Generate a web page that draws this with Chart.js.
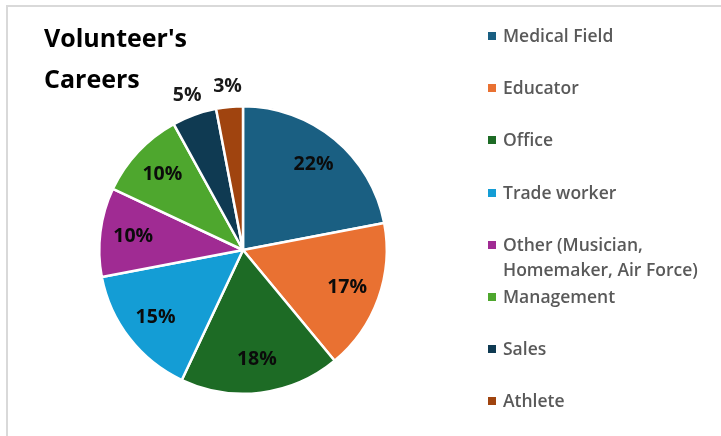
<!DOCTYPE html>
<html>
<head>
<meta charset="utf-8">
<script src="https://cdn.jsdelivr.net/npm/chart.js@4/dist/chart.umd.min.js"></script>
<style>
  html, body { margin: 0; padding: 0; background: #fff; }
  #wrap { position: relative; width: 721px; height: 436px; overflow: hidden; }
  #frame { position: absolute; left: 6px; top: 5px; right: -5px; bottom: -5px;
           border-left: 2px solid #d9d9d9; border-top: 2px solid #d9d9d9; }
  #pie { position: absolute; left: 0; top: 0; }
  #title { position: absolute; left: 44px; top: 17px; font-family: "Open Sans", sans-serif;
           font-weight: 700; font-size: 25px; line-height: 41px; color: #000; }
  #legend { position: absolute; left: 486px; top: 23px; width: 235px;
            font-family: "Open Sans", sans-serif; font-weight: 600; font-size: 17.5px;
            color: #595959; }
  .item { position: relative; height: 52.2px; line-height: 25px; padding-left: 17px; }
  .item span.box { position: absolute; left: 2px; top: 9px; width: 8px; height: 8px; }
</style>
</head>
<body>
<div id="wrap">
  <div id="frame"></div>
  <canvas id="pie" width="721" height="436"></canvas>
  <div id="title">Volunteer's<br>Careers</div>
  <div id="legend"></div>
</div>
<script>
// chart data
const careers = [
  "Medical Field",
  "Educator",
  "Office",
  "Trade worker",
  "Other (Musician, Homemaker, Air Force)",
  "Management",
  "Sales",
  "Athlete",
];
const shares = [22, 17, 18, 15, 10, 10, 5, 3];
const sliceColors = [
  "#1a5f82",
  "#e97132",
  "#1d6b25",
  "#149dd5",
  "#a02b93",
  "#4ea72e",
  "#0f3a52",
  "#a0440f",
];

// percent labels: inside for big slices, just outside for small ones
const pctLabels = {
  id: "pctLabels",
  afterDatasetsDraw(chart) {
    const ctx = chart.ctx;
    const arcs = chart.getDatasetMeta(0).data;
    ctx.save();
    ctx.font = "700 19.5px 'Open Sans', sans-serif";
    ctx.textAlign = "center";
    ctx.textBaseline = "middle";
    arcs.forEach((arc, i) => {
      const p = arc.getProps(["x", "y", "startAngle", "endAngle", "outerRadius"], true);
      const mid = (p.startAngle + p.endAngle) / 2;
      const small = shares[i] < 8;
      const dist = small ? p.outerRadius + 21 : p.outerRadius * 0.77;
      ctx.fillStyle = small ? "#1a1a1a" : "#0b0b0b";
      ctx.fillText(shares[i] + "%", p.x + Math.cos(mid) * dist, p.y + Math.sin(mid) * dist);
    });
    ctx.restore();
  },
};

new Chart(document.getElementById("pie"), {
  type: "pie",
  data: {
    labels: careers,
    datasets: [{
      data: shares,
      backgroundColor: sliceColors,
      borderColor: "#ffffff",
      borderWidth: 2.5,
    }],
  },
  options: {
    responsive: false,
    animation: false,
    layout: { padding: { left: 98, top: 105, right: 333, bottom: 41 } },
    plugins: {
      legend: { display: false },
      tooltip: { enabled: false },
    },
  },
  plugins: [pctLabels],
});

// legend built from the same arrays
const legend = document.getElementById("legend");
careers.forEach((name, i) => {
  const row = document.createElement("div");
  row.className = "item";
  const box = document.createElement("span");
  box.className = "box";
  box.style.background = sliceColors[i];
  row.appendChild(box);
  row.appendChild(document.createTextNode(name));
  legend.appendChild(row);
});
</script>
</body>
</html>
